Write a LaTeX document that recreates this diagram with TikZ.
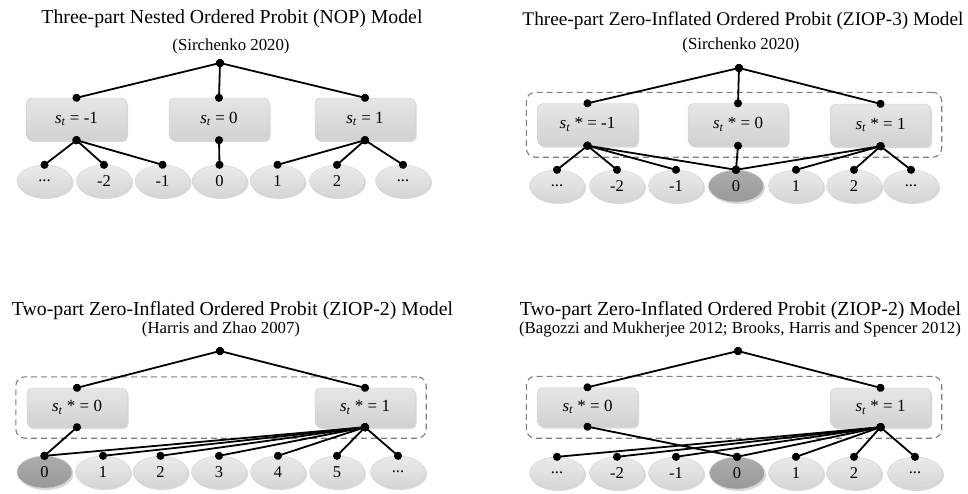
\documentclass[tikz,border=0pt]{standalone}
\usepackage{fontspec}
\setmainfont{Liberation Serif}
\usetikzlibrary{arrows.meta, positioning, shapes.geometric, shadows, fit}

\definecolor{boxgray}{RGB}{210,210,210}
\definecolor{ellgray}{RGB}{214,214,214}
\definecolor{zerogray}{RGB}{152,152,152}
\definecolor{framegray}{RGB}{125,125,125}

\newcommand{\sst}{\textit{s}\textsubscript{\textit{t}}}
\newcommand{\more}{...}

\begin{document}
\begin{tikzpicture}[x=1pt, y=-1pt,
    ptitle/.style={anchor=base, font=\fontsize{19.8}{22}\selectfont},
    psub/.style={anchor=base, font=\fontsize{16.8}{19}\selectfont},
    state/.style={draw=gray!40, rounded corners=5pt, top color=boxgray!55, bottom color=boxgray,
      minimum width=100pt, minimum height=42pt, font=\fontsize{17}{19}\selectfont,
      drop shadow={opacity=0.3, shadow xshift=1.5pt, shadow yshift=-2pt}},
    outc/.style={ellipse, draw=gray!35, top color=ellgray!50, bottom color=ellgray,
      minimum width=55pt, minimum height=32pt, inner sep=0pt, font=\fontsize{16.5}{18}\selectfont,
      drop shadow={opacity=0.3, shadow xshift=1.5pt, shadow yshift=-2pt}},
    zero/.style={outc, top color=zerogray!80, bottom color=zerogray},
    frame/.style={draw=framegray, dash pattern=on 6pt off 4pt, rounded corners=9pt, line width=1.1pt,
      inner xsep=11pt, inner ysep=11pt},
    link/.style={line width=1.8pt, {Circle[length=8pt]}-{Circle[length=8pt]},
      shorten <=-4pt, shorten >=-4pt},
]
\useasboundingbox (0,0) rectangle (968,493);

% Three-part NOP
\node[ptitle] (t1) at (232,23) {Three-part Nested Ordered Probit (NOP) Model};
\node[psub] (s1) at (231,50) {(Sirchenko 2020)};
\coordinate (r1) at (220,63);
\node[state] (a1) at (76.5,119) {\sst{} = -1};
\node[state] (a2) at (219,119) {\sst{} = 0};
\node[state] (a3) at (365,119) {\sst{} = 1};
\foreach \x/\lab/\sty [count=\i] in {44.5/\more/outc, 104/-2/outc, 162.5/-1/outc, 219.5/0/outc,
    277.5/1/outc, 337/2/outc, 403/\more/outc}
  \node[\sty] (o1-\i) at (\x,181) {\lab};
\foreach \b in {a1,a2,a3} \draw[link] (r1) -- (\b.north);
\foreach \i in {1,2,3} \draw[link] (a1.south) -- (o1-\i.north);
\draw[link] (a2.south) -- (o1-4.north);
\foreach \i in {5,6,7} \draw[link] (a3.south) -- (o1-\i.north);

% Three-part ZIOP-3
\node[ptitle, font=\fontsize{19.3}{22}\selectfont] (t2) at (743,25) {Three-part Zero-Inflated Ordered Probit (ZIOP-3) Model};
\node[psub] (s2) at (741,49) {(Sirchenko 2020)};
\coordinate (r2) at (739,68);
\node[state] (b1) at (587.5,124.5) {\sst{} * = -1};
\node[state] (b2) at (738,124.5) {\sst{} * = 0};
\node[state] (b3) at (880.5,125) {\sst{} * = 1};
\node[frame, fit=(b1)(b3)] (f2) {};
\foreach \x/\lab/\sty [count=\i] in {557/\more/outc, 617/-2/outc, 676/-1/outc, 736/0/zero,
    796/1/outc, 854/2/outc, 911/\more/outc}
  \node[\sty] (o2-\i) at (\x,186) {\lab};
\foreach \b in {b1,b2,b3} \draw[link] (r2) -- (\b.north);
\foreach \i in {1,2,3,4} \draw[link] (b1.south) -- (o2-\i.north);
\draw[link] (b2.south) -- (o2-4.north);
\foreach \i in {4,5,6,7} \draw[link] (b3.south) -- (o2-\i.north);

% Two-part ZIOP-2 (Harris and Zhao)
\node[ptitle] (t3) at (232.5,315) {Two-part Zero-Inflated Ordered Probit (ZIOP-2) Model};
\node[psub] (s3) at (221,333) {(Harris and Zhao 2007)};
\coordinate (r3) at (220,351);
\node[state, minimum height=39pt] (c1) at (77,407.5) {\sst{} * = 0};
\node[state, minimum height=39pt] (c2) at (365,407.5) {\sst{} * = 1};
\node[frame, fit=(c1)(c2)] (f3) {};
\foreach \x/\lab/\sty [count=\i] in {44.5/0/zero, 103/1/outc, 160.5/2/outc, 219/3/outc,
    278/4/outc, 337/5/outc, 398/\more/outc}
  \node[\sty] (o3-\i) at (\x,472) {\lab};
\foreach \b in {c1,c2} \draw[link] (r3) -- (\b.north);
\draw[link] (c1.south) -- (o3-1.north);
\foreach \i in {1,...,7} \draw[link] (c2.south) -- (o3-\i.north);

% Two-part ZIOP-2 (Bagozzi and Mukherjee; Brooks et al.)
\node[ptitle] (t4) at (740.5,315) {Two-part Zero-Inflated Ordered Probit (ZIOP-2) Model};
\node[psub] (s4) at (740,333) {(Bagozzi and Mukherjee 2012; Brooks, Harris and Spencer 2012)};
\coordinate (r4) at (738,351);
\node[state, minimum height=39pt] (d1) at (587.5,407) {\sst{} * = 0};
\node[state, minimum height=39pt] (d2) at (880.5,407.5) {\sst{} * = 1};
\node[frame, fit=(d1)(d2)] (f4) {};
\foreach \x/\lab/\sty [count=\i] in {557/\more/outc, 617/-2/outc, 676/-1/outc, 737/0/zero,
    796/1/outc, 854/2/outc, 915/\more/outc}
  \node[\sty] (o4-\i) at (\x,473) {\lab};
\foreach \b in {d1,d2} \draw[link] (r4) -- (\b.north);
\draw[link] (d1.south) -- (o4-4.north);
\foreach \i in {1,...,7} \draw[link] (d2.south) -- (o4-\i.north);
\end{tikzpicture}
\end{document}
